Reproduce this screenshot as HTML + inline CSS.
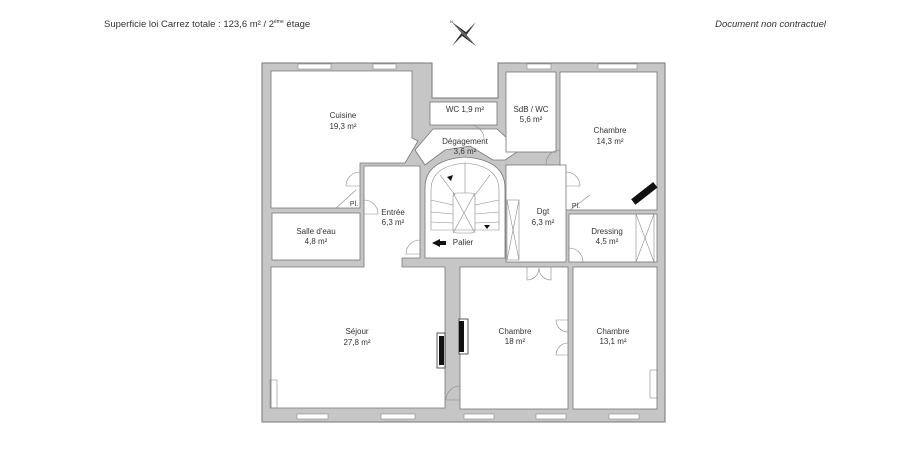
<!DOCTYPE html>
<html><head><meta charset="utf-8"><style>
html,body{margin:0;padding:0;background:#fff;}
body{width:924px;height:468px;overflow:hidden;font-family:"Liberation Sans",sans-serif;}
svg text{font-family:"Liberation Sans",sans-serif;fill:#333;}
</style></head><body>
<svg width="924" height="468" viewBox="0 0 924 468" xmlns="http://www.w3.org/2000/svg">
<text x="104" y="27" font-size="9.5">Superficie loi Carrez totale : 123,6 m² / 2<tspan font-size="5" dy="-4">ème</tspan><tspan dy="4"> étage</tspan></text>
<text x="826" y="27" font-size="9.5" font-style="italic" text-anchor="end">Document non contractuel</text>
<!-- compass -->
<g transform="translate(464,34)">
<polygon points="-12,-12 3,-1 1,1" fill="#111"/><polygon points="12,12 -3,1 -1,-1" fill="#111"/>
<polygon points="12,-12 1,3 -1,1" fill="#333"/><polygon points="-12,12 -1,-3 1,-1" fill="#333"/>
<polygon points="-12,-12 1,-1 -1,1" fill="#666"/><polygon points="12,12 -1,1 1,-1" fill="#666"/>
<text x="-14" y="-11" font-size="4">N</text>
</g>
<!-- footprint -->
<polygon points="262,63 432,63 432,98 498,98 498,63 665,63 665,422 262,422" fill="#c6c6c6" stroke="#777" stroke-width="1"/>
<g fill="#fff" stroke="#777" stroke-width="0.8">
<polygon points="271,71 412,71 412,138 418,141 405,163 360,163 360,208 271,208"/>
<rect x="272" y="213" width="88" height="47"/>
<polygon points="364,166 420,166 420,258 402,258 402,267 445,267 445,408 271,408 271,267 364,267"/>
<rect x="430" y="102" width="67" height="23"/>
<polygon points="433,129 497,129 520,150 505,160 493,160 470,146 445,150 425,165 415,150"/>
<rect x="506" y="72" width="50" height="80"/>
<rect x="560" y="72" width="97" height="138"/>
<rect x="506" y="165" width="60" height="97"/>
<rect x="569" y="214" width="88" height="48"/>
<path d="M425,258 L425,188 Q425,160 465,157 Q505,160 505,188 L505,258 Z"/>
<rect x="460" y="267" width="108" height="142"/>
<rect x="573" y="267" width="84" height="142"/>
</g>
<line x1="364.5" y1="266" x2="401.5" y2="266" stroke="#fff" stroke-width="2"/>
<!-- stair detail -->
<g fill="none" stroke="#888" stroke-width="0.6">
<path d="M431,230 L431,190 Q431,166 465,163 Q499,166 499,190 L499,230"/>
<rect x="453" y="193" width="22" height="40" rx="4"/>
<line x1="431" y1="200" x2="453" y2="205"/><line x1="431" y1="212" x2="453" y2="214"/><line x1="431" y1="222" x2="453" y2="223"/>
<line x1="499" y1="200" x2="475" y2="205"/><line x1="499" y1="212" x2="475" y2="214"/><line x1="499" y1="222" x2="475" y2="223"/>
<line x1="440" y1="175" x2="455" y2="195"/><line x1="465" y1="163" x2="465" y2="193"/><line x1="490" y1="175" x2="475" y2="195"/>
<line x1="453" y1="193" x2="475" y2="233"/><line x1="475" y1="193" x2="453" y2="233"/>
<line x1="431" y1="230" x2="499" y2="230"/>
<rect x="507" y="200" width="12" height="60"/><line x1="507" y1="200" x2="519" y2="260"/><line x1="519" y1="200" x2="507" y2="260"/>
<rect x="636" y="214" width="18" height="48"/><line x1="636" y1="214" x2="654" y2="262"/><line x1="654" y1="214" x2="636" y2="262"/>
<rect x="270" y="380" width="7" height="28"/><rect x="650" y="370" width="7" height="28"/>
<path d="M360,172 A14,14 0 0 0 346,186 L360,186"/>
<path d="M364,200 A14,14 0 0 1 378,214 L364,214"/>
<path d="M420,240 A14,14 0 0 0 406,254 L420,254"/>
<path d="M470,125 A14,14 0 0 1 484,139"/>
<path d="M566,172 A14,14 0 0 1 580,186 L566,186"/>
<path d="M560,150 A14,14 0 0 0 546,164"/>
<path d="M569,248 A14,14 0 0 1 583,262"/>
<path d="M460,386 A14,14 0 0 0 446,400 L460,400"/>
<path d="M527,267 L527,280 A12,12 0 0 0 539,268 M551,267 L551,280 A12,12 0 0 1 539,268"/>
<path d="M568,320 L556,320 A12,12 0 0 0 568,332 M568,355 L556,355 A12,12 0 0 1 568,343"/>
<line x1="336" y1="208" x2="356" y2="190"/><line x1="570" y1="210" x2="590" y2="195"/>
</g>
<g fill="#fff" stroke="#888" stroke-width="0.6">
<rect x="298" y="64" width="33" height="5"/><rect x="373" y="64" width="23" height="5"/>
<rect x="527" y="64" width="24" height="5"/><rect x="598" y="64" width="39" height="5"/>
<rect x="297" y="414" width="31" height="5"/><rect x="381" y="414" width="34" height="5"/>
<rect x="464" y="414" width="30" height="5"/><rect x="536" y="414" width="30" height="5"/>
<rect x="609" y="414" width="30" height="5"/>
</g>
<rect x="437" y="333" width="8" height="35" fill="#fff" stroke="#333" stroke-width="0.8"/><rect x="439" y="336" width="5" height="29" fill="#111"/>
<rect x="459" y="319" width="9" height="35" fill="#fff" stroke="#333" stroke-width="0.8"/><rect x="459" y="321" width="5" height="31" fill="#111"/>
<rect x="630" y="190" width="28" height="7" transform="rotate(-38 644 193)" fill="#111"/>
<polygon points="432,243 440,239 440,241 446,241 446,245 440,245 440,247" fill="#111"/>
<polygon points="484,225 490,225 487,229" fill="#111"/><polygon points="447,177 453,175 451,181" fill="#111"/>
<g font-size="8" text-anchor="middle">
<text x="343" y="118">Cuisine</text><text x="343" y="129">19,3 m²</text>
<text x="316" y="234">Salle d'eau</text><text x="316" y="244">4,8 m²</text>
<text x="393" y="215">Entrée</text><text x="393" y="225">6,3 m²</text>
<text x="465" y="112">WC 1,9 m²</text>
<text x="465" y="144">Dégagement</text><text x="465" y="154">3,6 m²</text>
<text x="531" y="112">SdB / WC</text><text x="531" y="122">5,6 m²</text>
<text x="610" y="133">Chambre</text><text x="610" y="144">14,3 m²</text>
<text x="543" y="214">Dgt</text><text x="543" y="225">6,3 m²</text>
<text x="607" y="234">Dressing</text><text x="607" y="244">4,5 m²</text>
<text x="463" y="245">Palier</text>
<text x="357" y="334">Séjour</text><text x="357" y="345">27,8 m²</text>
<text x="515" y="334">Chambre</text><text x="515" y="344">18 m²</text>
<text x="613" y="334">Chambre</text><text x="613" y="344">13,1 m²</text>
<text x="354" y="206" font-size="7">Pl.</text><text x="576" y="208" font-size="7">Pl.</text>
</g>
</svg>
</body></html>
